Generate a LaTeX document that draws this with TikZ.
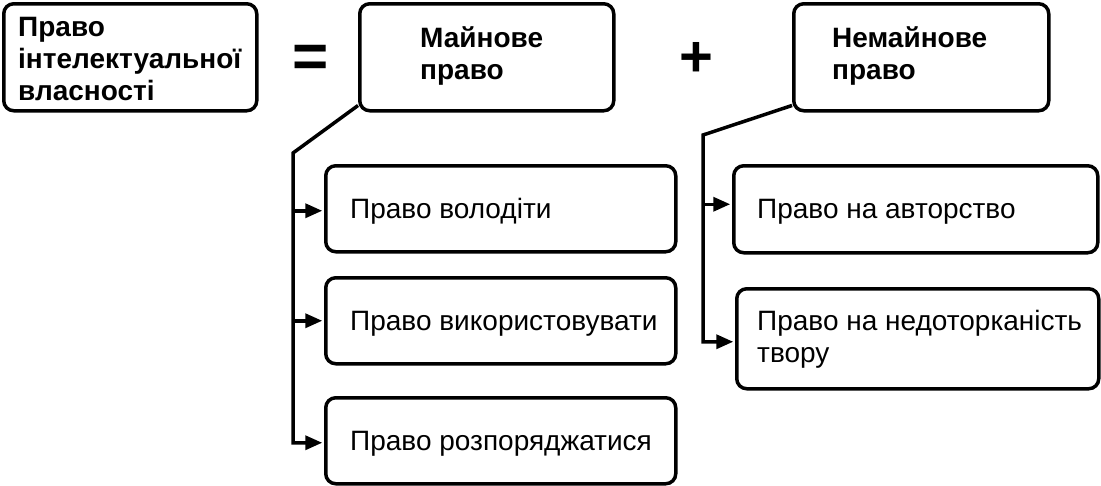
\documentclass[tikz,border=0pt]{standalone}
\usepackage{fontspec}
\setmainfont{Liberation Sans}
\usetikzlibrary{arrows.meta}
\begin{document}
\begin{tikzpicture}[x=1pt,y=-1pt,
  box/.style={draw, line width=3.5pt, rounded corners=10pt, anchor=north west, inner sep=0pt},
  lbl/.style={font=\fontsize{28}{32}\selectfont, inner sep=0pt, align=left},
  hd/.style={lbl, font=\bfseries\fontsize{28}{32}\selectfont},
  sym/.style={inner sep=0pt, anchor=center},
  conn/.style={line width=3.5pt},
  arr/.style={conn, -{Triangle[length=17pt,width=14pt]}, shorten >=1.75pt}]
\useasboundingbox (0,0) rectangle (1101,485);

% boxes
\node[box, minimum width=253pt, minimum height=107pt] (A) at (2,2) {};
\node[box, minimum width=254pt, minimum height=107pt] (B) at (358,2) {};
\node[box, minimum width=255pt, minimum height=107pt] (C) at (792,2) {};
\node[box, minimum width=350pt, minimum height=86pt] (d1) at (324,164) {};
\node[box, minimum width=350pt, minimum height=86pt] (d2) at (324,276) {};
\node[box, minimum width=350pt, minimum height=86pt] (d3) at (324,396) {};
\node[box, minimum width=364pt, minimum height=87pt] (e1) at (732,164) {};
\node[box, minimum width=362pt, minimum height=100pt] (e2) at (735,287) {};

% texts
\node[hd, anchor=north west] (At) at (18,17) {Право\\інтелектуальної\\власності};
\node[hd, anchor=north west] (Bt) at (420,26) {Майнове\\право};
\node[hd, anchor=north west] (Ct) at (832,26) {Немайнове\\право};
\node[lbl, anchor=base west] (d1t) at (350,218) {Право володіти};
\node[lbl, anchor=base west] (d2t) at (350,330) {Право використовувати};
\node[lbl, anchor=base west] (d3t) at (350,450) {Право розпоряджатися};
\node[lbl, anchor=base west] (e1t) at (757,218) {Право на авторство};
\node[lbl, anchor=north west] (e2t) at (757,310) {Право на недоторканість\\твору};

% symbols
\node[sym, font=\bfseries\fontsize{62}{62}\selectfont] (eq) at (311,61) {=};
\node[sym, font=\bfseries\fontsize{58}{58}\selectfont] (pl) at (696,59) {+};

% connectors
\coordinate (lj) at (293,153);
\coordinate (rj) at (703,135);
\coordinate (d1in) at ([yshift=-2pt]d1.west);
\coordinate (d3in) at ([yshift=-2pt]d3.west);
\coordinate (e1in) at ([yshift=5pt]e1.west);
\coordinate (e2in) at ([yshift=-3pt]e2.west);
\draw[arr] ([yshift=7pt]B.south west) -- (lj) -- (lj |- d3in) -- (d3in);
\draw[arr] (lj |- d1in) -- (d1in);
\draw[arr] (lj |- d2.west) -- (d2.west);
\draw[arr] ([yshift=7pt]C.south west) -- (rj) -- (rj |- e2in) -- (e2in);
\draw[arr] (rj |- e1in) -- (e1in);
\end{tikzpicture}
\end{document}
